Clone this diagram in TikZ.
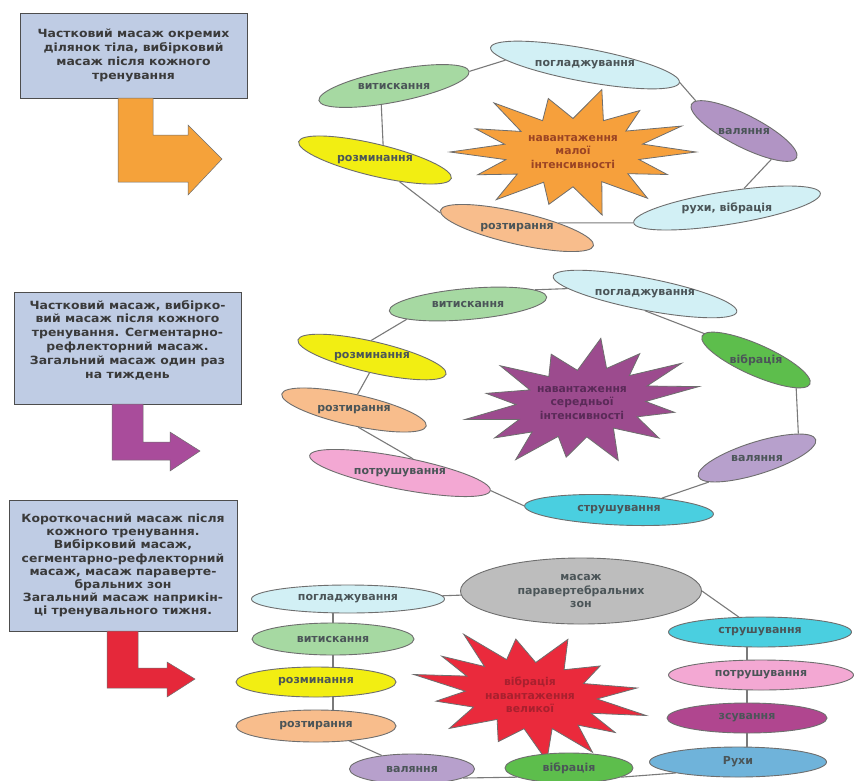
\documentclass[tikz,border=0pt]{standalone}
\usepackage{fontspec}
\setmainfont{DejaVu Sans}
\newfontfamily\boxfont{DejaVu Sans}[FakeStretch=1.1]
\usetikzlibrary{shapes.geometric}
\definecolor{edge}{HTML}{6E6E6E}
\definecolor{linkgray}{HTML}{7A7A7A}
\definecolor{boxfill}{HTML}{BFCCE4}
\definecolor{boxedge}{HTML}{4D4D4D}
\definecolor{boxtext}{HTML}{3A3A3A}
\definecolor{lbltext}{HTML}{4B5558}
\definecolor{palecyan}{HTML}{D2F0F5}
\definecolor{lgreen}{HTML}{A6D9A2}
\definecolor{yel}{HTML}{F2EE12}
\definecolor{peach}{HTML}{F8BD8C}
\definecolor{lpurple}{HTML}{B194C4}
\definecolor{lpurpleb}{HTML}{B7A0CC}
\definecolor{pink}{HTML}{F3A8D3}
\definecolor{cyanb}{HTML}{4ACFE0}
\definecolor{dgreen}{HTML}{5DBE4C}
\definecolor{magen}{HTML}{B0468F}
\definecolor{blueb}{HTML}{6FB3DA}
\definecolor{grayb}{HTML}{BDBDBD}
\definecolor{starorange}{HTML}{F6A03C}
\definecolor{starpurple}{HTML}{9C4B8E}
\definecolor{starred}{HTML}{EA2A3C}
\definecolor{txtorange}{HTML}{9B4424}
\definecolor{txtpurple}{HTML}{5A2A58}
\definecolor{txtred}{HTML}{A8202E}
\definecolor{arrorange}{HTML}{F5A23A}
\definecolor{arrpurple}{HTML}{A94C9B}
\definecolor{arrred}{HTML}{E5283A}

\newcommand\ovl[8]{%
  \node[ov, fill=#7, minimum width=#4pt, minimum height=#5pt, rotate=#6] (#1) at (#2,#3) {};
  \node[lbl] (#1t) at (#1.center) {#8};}
\def\spikes{12.9/.55, 25.7/.85, 38.6/.57, 51.4/.97, 64.3/.54, 77.1/1.06, 90/.57, 102.9/.88, 115.7/.55, 128.6/1.0, 141.4/.58, 154.3/.86, 167.1/.56, 180/1.0, 192.9/.57, 205.7/.88, 218.6/.54, 231.4/1.03, 244.3/.57, 257.1/.9, 270/.55, 282.9/1.05, 295.7/.57, 308.6/.87, 321.4/.55, 334.3/.98, 347.1/.58}
\newcommand\burst[9]{%
  \begin{scope}[shift={(#2,#3)}, x=#4pt, y=-#5pt, rotate=#9]
    \filldraw[fill=#6, draw=edge, line width=0.8pt] (0:1) foreach \a/\r in \spikes { -- (\a:\r) } -- cycle;
  \end{scope}
  \node[align=center, text=#7, font=\bfseries\fontsize{10.8}{13.4}\selectfont] (#1) at (#2,#3) {#8};}

\begin{document}
\begin{tikzpicture}[x=1pt, y=-1pt,
  ov/.style={ellipse, draw=edge, line width=0.9pt, inner sep=0pt},
  lbl/.style={font=\bfseries\fontsize{11}{13.4}\selectfont, text=lbltext, align=center},
  infobox/.style={draw=boxedge, line width=1pt, fill=boxfill, font=\boxfont\bfseries\fontsize{11.3}{13.8}\selectfont, text=boxtext, align=center, inner sep=0pt},
  link/.style={draw=linkgray, line width=1.1pt},
  bentarrow/.style={draw=edge, line width=0.5pt, line join=miter}]
\useasboundingbox (0,0) rectangle (854,780);
\fill[white] (0,0) rectangle (854,780);
\clip (0,0) rectangle (854,780);

% ---------- left boxes ----------
\node[infobox, minimum width=227pt, minimum height=85pt] (box1) at (133.5,55.5)
  {Частковий масаж окремих\\ділянок тіла, вибірковий\\масаж після кожного\\тренування\vphantom{p}};
\node[infobox, minimum width=227pt, minimum height=112pt] (box2) at (127.5,348)
  {Частковий масаж, вибірко-\\вий масаж після кожного\\тренування. Сегментарно-\\рефлекторний масаж.\\Загальний масаж один раз\\на тиждень\\[4pt]};
\node[infobox, minimum width=228pt, minimum height=131pt, font=\boxfont\bfseries\fontsize{11.3}{13.1}\selectfont] (box3) at (123,565.5)
  {Короткочасний масаж після\\кожного тренування.\\Вибірковий масаж,\\сегментарно-рефлекторний\\масаж, масаж параверте-\\бральних зон\\Загальний масаж наприкін-\\ці тренувального тижня.};

% ---------- bent arrows ----------
\filldraw[bentarrow, fill=arrorange] (118,98) -- (153,98) -- (153,135) -- (188,135) -- (188,125) -- (222,159) -- (188,195) -- (188,182) -- (118,182) -- cycle;
\filldraw[bentarrow, fill=arrpurple] (112,404) -- (143,404) -- (143,442) -- (170,442) -- (170,432) -- (200,451) -- (170,471) -- (170,460) -- (112,460) -- cycle;
\filldraw[bentarrow, fill=arrred] (107,631) -- (138,631) -- (138,668) -- (167,668) -- (167,662) -- (195,679) -- (167,697) -- (167,688) -- (107,688) -- cycle;

% ---------- diagram 1 ----------
\burst{s1}{573}{152}{123}{61}{starorange}{txtorange}{навантаження\\малої\\інтенсивності}{0}
\ovl{a1}{585}{65}{192}{33}{-10.5}{palecyan}{погладжування}
\ovl{a2}{394}{86}{153}{32}{11}{lgreen}{витискання}
\ovl{a3}{375}{160}{157}{32}{-13.5}{yel}{розминання}
\ovl{a4}{517}{228}{157}{32}{-13}{peach}{розтирання}
\ovl{a5}{727}{208}{189}{33}{9}{palecyan}{рухи, вібрація}
\ovl{a6}{744}{131}{118}{32}{-27}{lpurple}{валяння}
\draw[link] (a2.east) -- (a1.187);
\draw[link] (a1.east) -- (a6.175);
\draw[link] (a6.-19) -- (a5.40);
\draw[link] (a5.west) -- (a4.20);
\draw[link] (a4.182) -- (a3.-28);
\draw[link] (a3.75) -- (a2.-135);

% ---------- diagram 2 ----------
\burst{s2}{582}{403}{118}{60}{starpurple}{txtpurple}{навантаження\\середньої\\інтенсивності}{8}
\ovl{b1}{645}{294}{187}{32}{-11}{palecyan}{погладжування}
\ovl{b2}{468}{304}{158}{31}{5}{lgreen}{витискання}
\ovl{b3}{372}{357}{152}{31}{-13}{yel}{розминання}
\ovl{b4}{354}{410}{148}{31}{-12.5}{peach}{розтирання}
\ovl{b5}{400}{473}{184}{32}{-11}{pink}{потрушування}
\ovl{b6}{619}{510}{189}{30}{-2.5}{cyanb}{струшування}
\ovl{b7}{757}{458}{123}{32}{17.5}{lpurpleb}{валяння}
\ovl{b8}{756}{360}{118}{31}{-24}{dgreen}{вібрація}
\draw[link] (b2.7) -- (b1.187);
\draw[link] (b1.-79) -- (b8.177);
\draw[link] (b8.-11) -- (b7.13);
\draw[link] (b7.189) -- (b6.18);
\draw[link] (b6.west) -- (b5.east);
\draw[link] (b5.58) -- (b4.-64);
\draw[link] (b4.90) -- (b3.-86);
\draw[link] (b3.106) -- (b2.189);

% ---------- diagram 3 ----------
\burst{s3}{530}{695}{118}{60}{starred}{txtred}{вібрація\\навантаження\\великої}{-10}
\ovl{c0}{581}{591}{241}{66}{0}{grayb}{масаж\\паравертебральних\\зон}
\ovl{c1}{348}{599}{193}{28}{0}{palecyan}{погладжування}
\ovl{c2}{333}{639}{162}{32}{0}{lgreen}{витискання}
\ovl{c3}{316}{682}{160}{30}{0}{yel}{розминання}
\ovl{c4}{316}{726}{160}{32}{0}{peach}{розтирання}
\ovl{c5}{412}{769}{125}{30}{0}{lpurpleb}{валяння}
\ovl{c6}{569}{768}{128}{30}{0}{dgreen}{вібрація}
\ovl{c7}{760}{632}{183}{30}{0}{cyanb}{струшування}
\ovl{c8}{761}{675}{185}{30}{0}{pink}{потрушування}
\ovl{c9}{747}{718}{160}{30}{0}{magen}{зсування}
\ovl{c10}{738}{762}{177}{30}{0}{blueb}{Рухи}
\draw[link] (c1) -- (c0);
\draw[link] (c0.east) -- (c7);
\draw[link] (c1.south -| c2) -- (c2.north);
\draw[link] (c2.south) -- (c3.north -| c2);
\draw[link] (c3.south -| c2) -- (c4.north -| c2);
\draw[link] (c4) -- (c5);
\draw[link] (c5.-10) -- (c6.190);
\draw[link] (c6.-10) -- (c10.190);
\draw[link] (c7.south -| c9) -- (c8.north -| c9);
\draw[link] (c8.south -| c9) -- (c9.north);
\draw[link] (c9.south) -- (c10.north -| c9);
\end{tikzpicture}
\end{document}
